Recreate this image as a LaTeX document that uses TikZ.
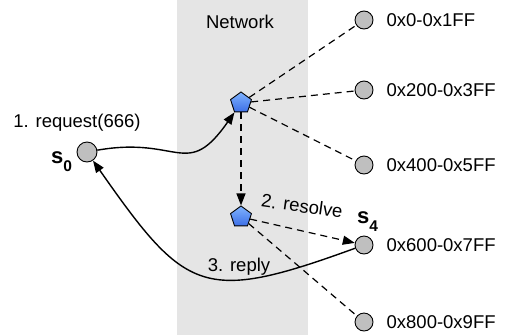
\documentclass[tikz,border=0pt]{standalone}
\usepackage{fontspec}
\setmainfont{Liberation Sans}
\usetikzlibrary{shapes.geometric,arrows.meta,positioning}
\definecolor{routertop}{HTML}{80B4FF}
\definecolor{routerbot}{HTML}{3C6EE6}
\tikzset{netbox/.style={fill=black!10,draw=none},
         host/.style={circle,draw,line width=0.9pt,fill=black!25,minimum size=18pt,inner sep=0pt},
         router/.style={regular polygon,regular polygon sides=5,draw,line width=0.9pt,
                        top color=routertop,bottom color=routerbot,
                        minimum size=22pt,inner sep=0pt},
         lookup/.style={dashed,line width=1.2pt,dash pattern=on 7pt off 5pt},
         msg/.style={line width=1.4pt},
         tip/.style={-{Triangle[length=12pt,width=9pt]}},
         hostname/.style={font=\bfseries\fontsize{22}{24}\selectfont,inner sep=0pt}}
\newcommand\hostsub[1]{\raisebox{-8pt}{\fontsize{15.5}{16}\selectfont #1}}

\begin{document}
\begin{tikzpicture}[x=1pt,y=-1pt,font=\fontsize{18.5}{21}\selectfont]
  \useasboundingbox (0,0) rectangle (510,335);
  %
  % the network strip
  \fill[netbox] (177,0) rectangle (308,335);
  \node (net) at (240,22) {Network};
  %
  % the ranges on the right
  \foreach \y/\range [count=\i from 0] in {20/0x0-0x1FF,90/0x200-0x3FF,165/0x400-0x5FF,
                                            245/0x600-0x7FF,322/0x800-0x9FF}
  {
    \node[host] (r\i) at (364,\y) {};
    \node[right=10pt of r\i,inner sep=3pt] (l\i) {\range};
  }
  %
  % the client and the two routers
  \node[host,minimum size=20pt] (s0) at (87,152) {};
  \node[hostname,anchor=base west] (s0lbl) at (51,163) {s\hostsub{0}};
  \node[hostname,anchor=base west] (s4lbl) at (357,223) {s\hostsub{4}};
  \node[router] (p1) at (241,103) {};
  \node[router] (p2) at (241,217) {};
  %
  % lookups
  \foreach \i in {0,1,2}
    \draw[lookup] (p1) -- (r\i);
  \draw[lookup,tip] (p1) -- (p2);
  \draw[lookup,tip] (p2) -- (r3);
  \draw[lookup] (p2) -- (r4);
  %
  % request and reply
  \draw[msg,tip] (s0) to[out=10,in=235,looseness=1.5] (p1);
  \draw[msg,tip] (r3) to[out=200,in=-55,looseness=1.5] (s0);
  %
  \node (req) at (77,123) {1. request(666)};
  \node[rotate=-8] (res) at (302,206) {2. resolve};
  \node (rep) at (239,267) {3. reply};
\end{tikzpicture}
\end{document}
